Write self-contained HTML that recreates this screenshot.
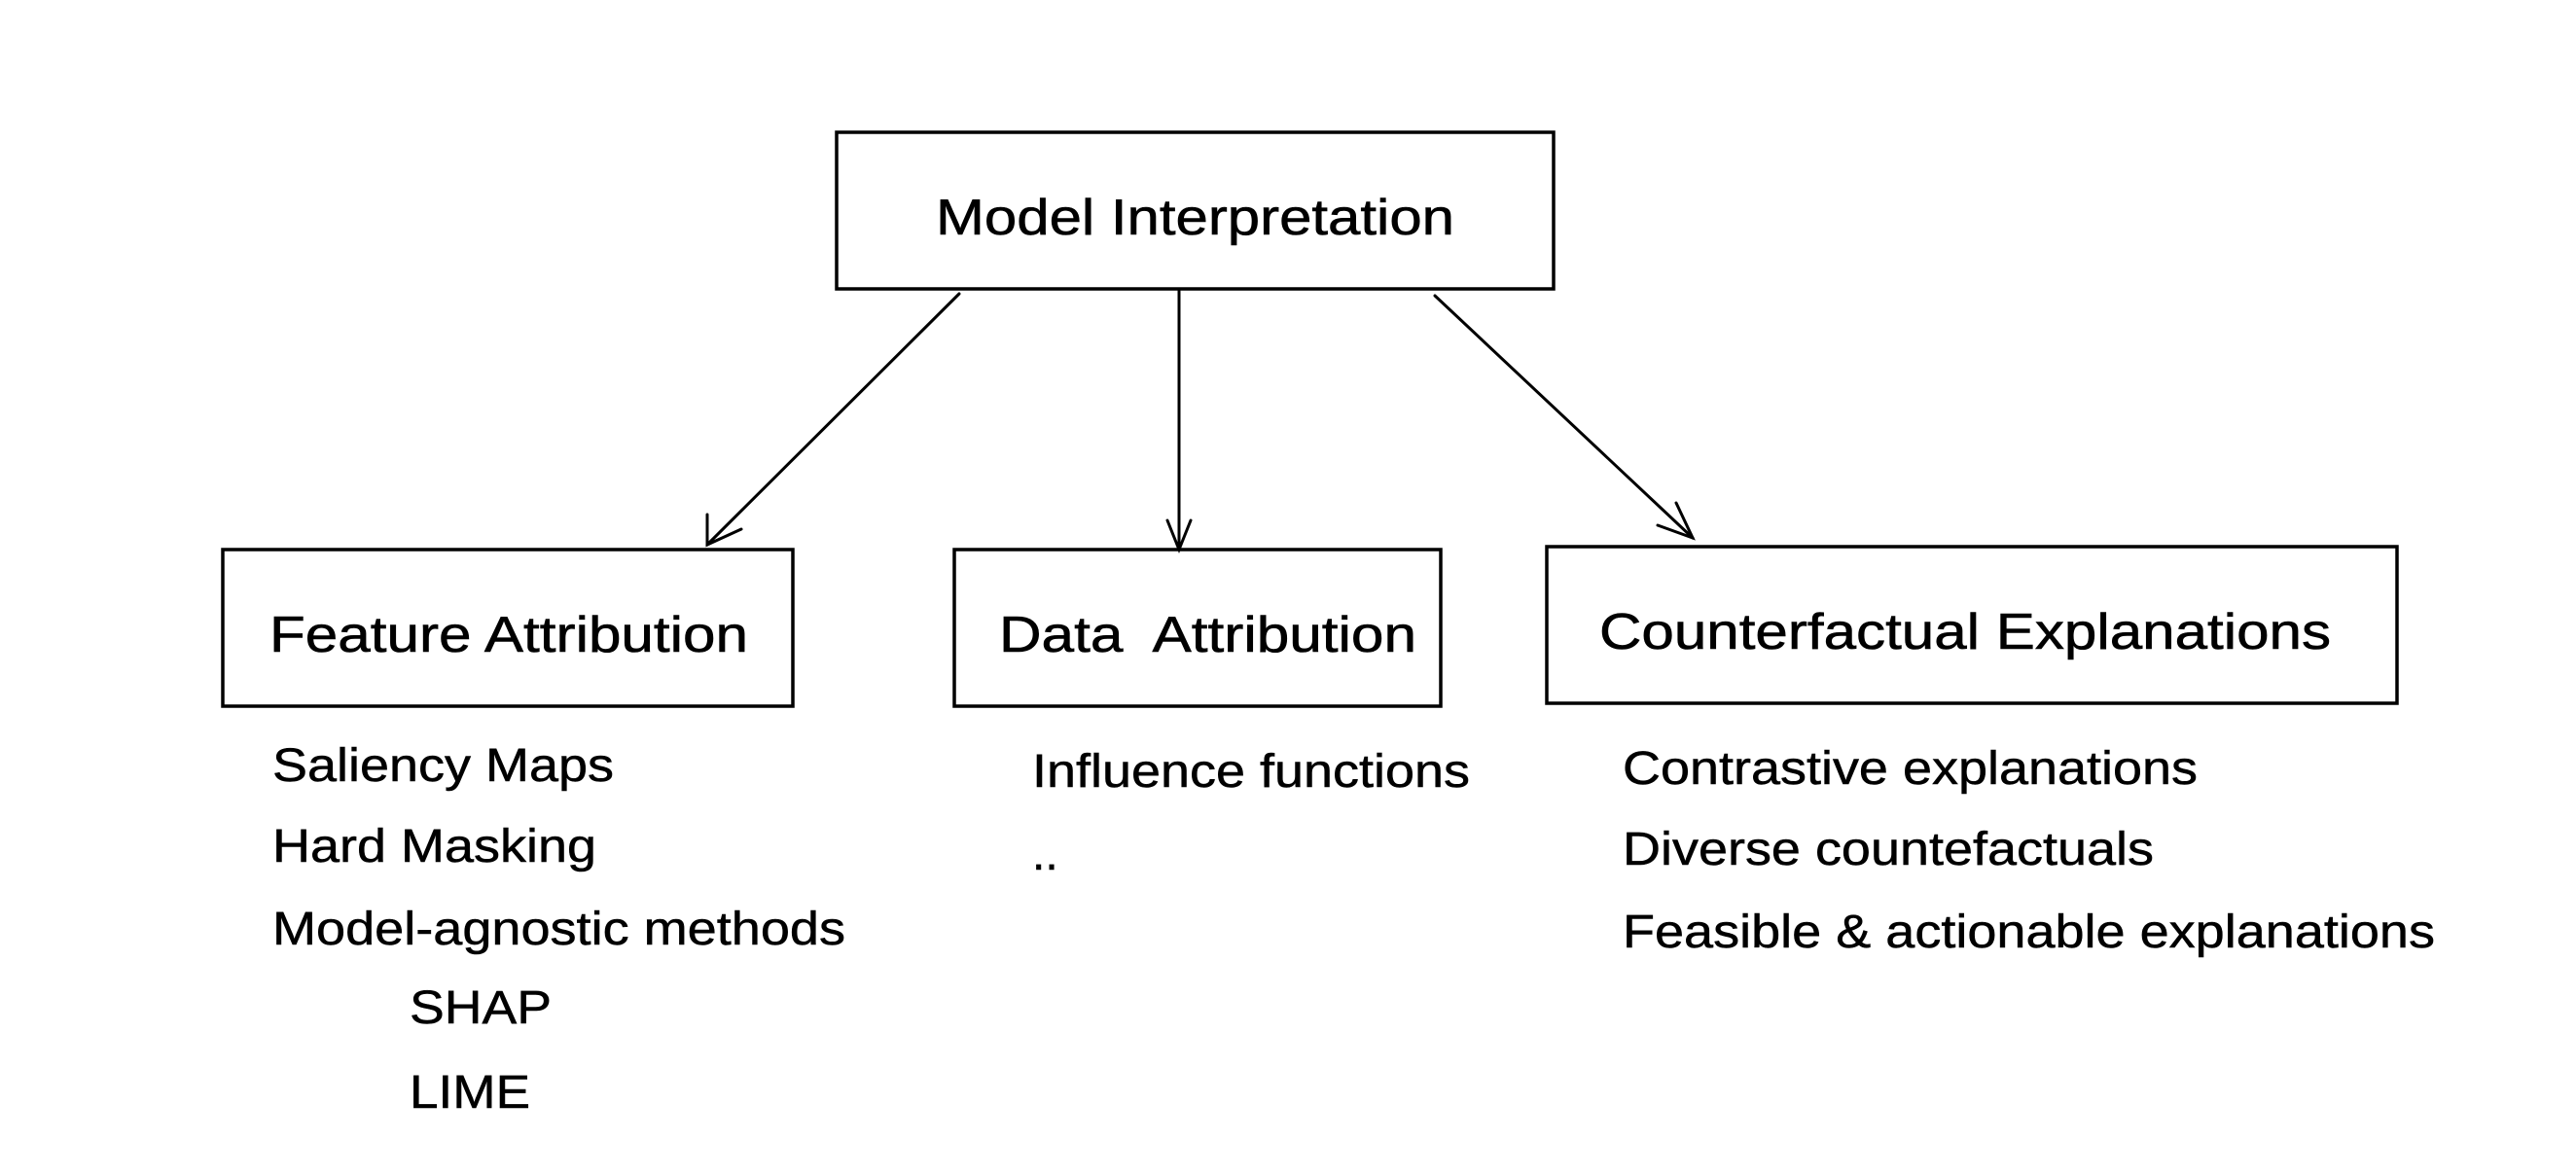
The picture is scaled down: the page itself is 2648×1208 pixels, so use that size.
<!DOCTYPE html>
<html><head><meta charset="utf-8"><style>html,body{margin:0;padding:0;background:#fff}svg{display:block}</style></head>
<body>
<svg width="2648" height="1208" viewBox="0 0 2648 1208" xmlns="http://www.w3.org/2000/svg" font-family="Liberation Sans, Arial, sans-serif" fill="#000">
<g fill="none" stroke="#000" stroke-width="3.5">
<rect x="860" y="136" width="737" height="161"/>
<rect x="229" y="565" width="586" height="161"/>
<rect x="981" y="565" width="500" height="161"/>
<rect x="1590" y="562" width="874" height="161"/>
</g>
<g fill="none" stroke="#000" stroke-width="3" stroke-linecap="round">
<line x1="986" y1="302" x2="727" y2="560"/>
<polyline points="727,529 727,560 762,544"/>
<line x1="1212" y1="299" x2="1212" y2="565"/>
<polyline points="1200,535 1212,565 1224,535"/>
<line x1="1475" y1="304" x2="1740" y2="553"/>
<polyline points="1723,517 1740,553 1704,540"/>
</g>
<g font-size="52" stroke="#000" stroke-width="0.6">
<text x="962" y="241" textLength="533" lengthAdjust="spacingAndGlyphs">Model Interpretation</text>
<text x="277" y="670" textLength="492" lengthAdjust="spacingAndGlyphs">Feature Attribution</text>
<text x="1027" y="670" textLength="429" lengthAdjust="spacingAndGlyphs" xml:space="preserve">Data  Attribution</text>
<text x="1644" y="667" textLength="752" lengthAdjust="spacingAndGlyphs">Counterfactual Explanations</text>
</g>
<g font-size="48" stroke="#000" stroke-width="0.5">
<text x="280" y="803" textLength="351" lengthAdjust="spacingAndGlyphs">Saliency Maps</text>
<text x="280" y="886" textLength="333" lengthAdjust="spacingAndGlyphs">Hard Masking</text>
<text x="280" y="971" textLength="589" lengthAdjust="spacingAndGlyphs">Model-agnostic methods</text>
<text x="421" y="1052" textLength="146" lengthAdjust="spacingAndGlyphs">SHAP</text>
<text x="421" y="1139" textLength="124" lengthAdjust="spacingAndGlyphs">LIME</text>
<text x="1061" y="809" textLength="450" lengthAdjust="spacingAndGlyphs">Influence functions</text>
<text x="1061" y="894">..</text>
<text x="1668" y="806" textLength="591" lengthAdjust="spacingAndGlyphs">Contrastive explanations</text>
<text x="1668" y="889" textLength="546" lengthAdjust="spacingAndGlyphs">Diverse countefactuals</text>
<text x="1668" y="974" textLength="835" lengthAdjust="spacingAndGlyphs">Feasible &amp; actionable explanations</text>
</g>
</svg>
</body></html>
